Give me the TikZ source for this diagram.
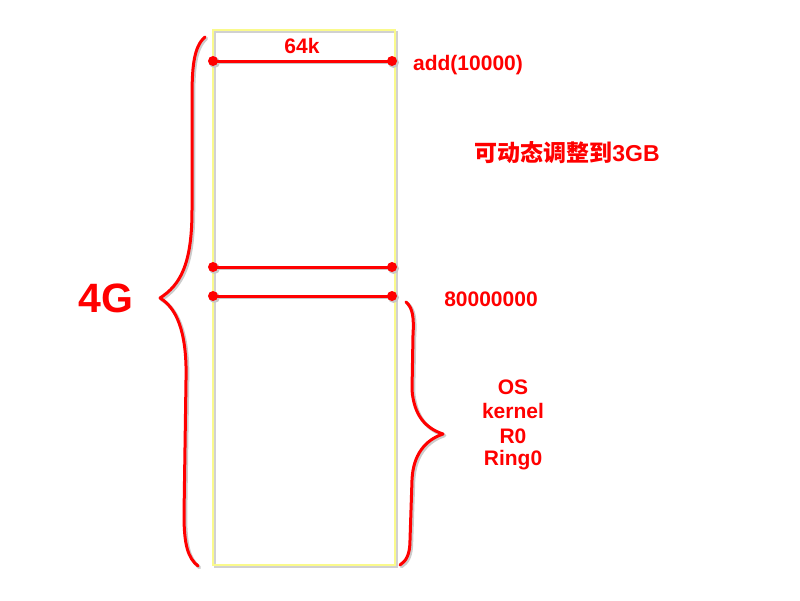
\documentclass[tikz,border=0pt]{standalone}
\usepackage{fontspec}
\setmainfont{Liberation Sans}
\newfontfamily\cjk{Noto Sans CJK SC}
\definecolor{boxyellow}{RGB}{250,250,140}
\tikzset{
  lbl/.style={text=red, font=\bfseries\fontsize{21}{25}\selectfont, inner sep=0pt, align=center},
  redline/.style={draw=red, line width=3pt, line cap=round},
  shadowline/.style={draw=black!22, line width=3.5pt, line cap=round},
  brace/.style={draw=red, line width=3pt, line cap=round, line join=round},
  braceshadow/.style={draw=black!20, line width=3.5pt, line cap=round, line join=round},
}
\begin{document}
\begin{tikzpicture}[x=1pt, y=-1pt]
\path[use as bounding box] (0,0) rectangle (800,600);
% memory box
\draw[black!18, line width=2pt] (215,32) rectangle (397,567);
\draw[boxyellow, line width=1.6pt] (213,30) rectangle (395,565);
% separator lines
\foreach \n/\y in {a/61, b/267, c/296}{
  \coordinate (\n l) at (213,\y);
  \coordinate (\n r) at (392,\y);
  \fill[black!22] (214.5,\y+1.5) circle (5.5pt);
  \fill[black!22] (393.5,\y+1.5) circle (5.5pt);
}
\foreach \n in {a,b,c}{
  \draw[shadowline, transform canvas={shift={(1.5pt,-1.5pt)}}] (\n l) -- (\n r);
  \draw[redline] (\n l) -- (\n r);
  \fill[red] (\n l) circle (5pt);
  \fill[red] (\n r) circle (5pt);
}
% brace shadows
\begin{scope}[transform canvas={shift={(1.5pt,-1.5pt)}}]
\draw[braceshadow] (205,37) .. controls (193,47) and (192,70) .. (192,100)
  -- (192,210) .. controls (192,265) and (180,285) .. (160,298)
  .. controls (180,310) and (187,340) .. (186,380)
  -- (184,515) .. controls (184,545) and (188,558) .. (198,566);
\draw[braceshadow] (406,302) .. controls (413,308) and (414,318) .. (413,335)
  -- (412,390) .. controls (414,415) and (425,428) .. (443,434)
  .. controls (425,440) and (413,455) .. (412,480)
  -- (410,540) .. controls (410,555) and (406,561) .. (400,565);
\end{scope}
% left brace
\draw[brace] (205,37) .. controls (193,47) and (192,70) .. (192,100)
  -- (192,210) .. controls (192,265) and (180,285) .. (160,298)
  .. controls (180,310) and (187,340) .. (186,380)
  -- (184,515) .. controls (184,545) and (188,558) .. (198,566);
% right brace
\draw[brace] (406,302) .. controls (413,308) and (414,318) .. (413,335)
  -- (412,390) .. controls (414,415) and (425,428) .. (443,434)
  .. controls (425,440) and (413,455) .. (412,480)
  -- (410,540) .. controls (410,555) and (406,561) .. (400,565);
% labels
\node[lbl] (k64) at (302,46) {64k};
\node[lbl] (addr) at (468,65) {add(10000)};
\node[lbl] (dyn) at (567,153) {\fontsize{23}{26}\selectfont{\cjk 可动态调整到}3GB};
\node[lbl] (g4) at (106,298) {\fontsize{41}{44}\selectfont 4G};
\node[lbl] (hex) at (491,299) {80000000};
\node[lbl] (os1) at (513,387) {OS};
\node[lbl] (os2) at (513,411) {kernel};
\node[lbl] (os3) at (513,436) {R0};
\node[lbl] (os4) at (513,460) {Ring0};
\end{tikzpicture}
\end{document}
